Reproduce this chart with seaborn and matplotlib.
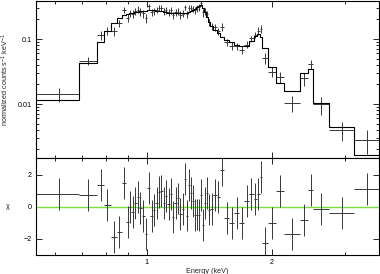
"""
Unfolded X-ray spectrum with folded model (top) and chi residuals (bottom)
"""

import numpy as np
import matplotlib
matplotlib.use('Agg')
import matplotlib.pyplot as plt
import seaborn as sns
from matplotlib.ticker import FixedLocator, NullFormatter, LogLocator

# channel bin edges (keV)
edges = [0.541, 0.687, 0.760, 0.788, 0.818, 0.846, 0.872, 0.892, 0.906, 0.919,
         0.932, 0.945, 0.958, 0.974, 0.988, 1.004,
         1.020, 1.034, 1.049, 1.064, 1.078, 1.093, 1.108, 1.122, 1.137, 1.151,
         1.166, 1.182, 1.198, 1.214, 1.228, 1.241, 1.257, 1.272, 1.288, 1.302,
         1.317, 1.331, 1.345, 1.359, 1.374, 1.391, 1.407, 1.424, 1.446, 1.473,
         1.503, 1.539, 1.580, 1.624, 1.670, 1.718, 1.766, 1.809, 1.843, 1.871, 1.899,
         1.957, 2.046, 2.146, 2.342, 2.444, 2.521, 2.750, 3.159, 3.629]

# folded model (counts s^-1 keV^-1)
model = [0.0115, 0.0423, 0.089, 0.132, 0.174, 0.210, 0.235, 0.245, 0.250, 0.255,
         0.260, 0.263, 0.266, 0.268, 0.270,
         0.278, 0.279, 0.277, 0.274, 0.270, 0.266, 0.262, 0.258, 0.255, 0.252,
         0.250, 0.249, 0.249, 0.250, 0.251, 0.253, 0.256, 0.262, 0.270, 0.281,
         0.295, 0.312, 0.326, 0.330, 0.300, 0.262, 0.218, 0.186, 0.160, 0.139,
         0.122, 0.109, 0.098, 0.089, 0.082, 0.077, 0.079, 0.093, 0.110, 0.120, 0.108,
         0.072, 0.0367, 0.0213, 0.0157, 0.0297, 0.0345, 0.0103, 0.00448, 0.00162]

# observed rate and 1-sigma errors
counts = [0.0141, 0.0466, 0.115, 0.134, 0.134, 0.175, 0.282, 0.213, 0.249, 0.245,
          0.267, 0.284, 0.264, 0.248, 0.212,
          0.317, 0.260, 0.271, 0.282, 0.300, 0.299, 0.270, 0.279, 0.260, 0.276,
          0.231, 0.257, 0.265, 0.235, 0.246, 0.307, 0.239, 0.305, 0.299, 0.293,
          0.276, 0.294, 0.307, 0.358, 0.258, 0.270, 0.242, 0.182, 0.157, 0.151,
          0.131, 0.155, 0.0896, 0.0779, 0.0782, 0.0674, 0.0824, 0.102, 0.1165, 0.134, 0.145,
          0.0505, 0.0314, 0.0263, 0.0105, 0.0249, 0.0413, 0.0099, 0.0040, 0.00283]

errors = [0.0033, 0.006, 0.019, 0.020, 0.021, 0.022, 0.032, 0.033, 0.033, 0.033,
          0.034, 0.034, 0.034, 0.034, 0.034,
          0.034, 0.034, 0.034, 0.033, 0.033, 0.033, 0.032, 0.032, 0.032, 0.031,
          0.031, 0.031, 0.031, 0.031, 0.031, 0.031, 0.031, 0.032, 0.033, 0.034,
          0.035, 0.037, 0.038, 0.039, 0.036, 0.032, 0.027, 0.023, 0.020, 0.017,
          0.015, 0.020, 0.012, 0.011, 0.010, 0.0095, 0.0097, 0.011, 0.013, 0.018, 0.020,
          0.0096, 0.0052, 0.005, 0.003, 0.0056, 0.0065, 0.003, 0.00125, 0.0011]

sns.set_style("ticks")
plt.rcParams['font.family'] = ['Liberation Sans', 'DejaVu Sans']
plt.rcParams['mathtext.default'] = 'regular'
plt.rcParams['axes.linewidth'] = 0.8

e = np.array(edges)
lo, hi = e[:-1], e[1:]
mid = 0.5 * (lo + hi)
m = np.array(model)
c = np.array(counts)
err = np.array(errors)
chi = (c - m) / err

W, H = 380, 274
fig = plt.figure(figsize=(W / 100, H / 100), dpi=100)
ax1 = fig.add_axes([36 / W, 116 / H, 343 / W, 157 / H])
ax2 = fig.add_axes([36 / W, 19 / H, 343 / W, 97 / H])

ink = '#383838'
fs = 5.2

# top panel: data + model
ax1.set_xscale('log')
ax1.set_yscale('log')
ax1.errorbar(mid, c, xerr=[mid - lo, hi - mid], yerr=err, fmt='none',
             ecolor=ink, elinewidth=0.7, capsize=0)
sns.lineplot(x=e, y=np.append(m, m[-1]), drawstyle='steps-post', color='black',
             linewidth=0.8, estimator=None, sort=False, ax=ax1)
ax1.set_xlim(edges[0], edges[-1])
ax1.set_ylim(0.00148, 0.385)

# bottom panel: residuals
ax2.set_xscale('log')
ax2.axhline(0, color='#78e040', linewidth=1.0, zorder=1)
ax2.errorbar(mid, chi, xerr=[mid - lo, hi - mid], yerr=np.ones_like(chi), fmt='none',
             ecolor=ink, elinewidth=0.7, capsize=0, zorder=2)
ax2.set_xlim(edges[0], edges[-1])
ax2.set_ylim(-3.02, 3.05)

for ax in (ax1, ax2):
    ax.xaxis.set_major_locator(FixedLocator([1, 2]))
    ax.xaxis.set_minor_locator(FixedLocator([0.6, 0.7, 0.8, 0.9, 3]))
    ax.xaxis.set_minor_formatter(NullFormatter())
    ax.tick_params(which='both', direction='in', top=True, right=True,
                   labelsize=fs, width=0.6, color='black', labelcolor='black')
    ax.tick_params(which='major', length=4, pad=3)
    ax.tick_params(which='minor', length=2)
    for s in ax.spines.values():
        s.set_color('black')

ax1.set_xticklabels([])
ax1.yaxis.set_major_locator(FixedLocator([0.01, 0.1]))
ax1.set_yticklabels(['0.01', '0.1'])
ax1.yaxis.set_minor_locator(LogLocator(base=10, subs=range(2, 10)))
ax1.yaxis.set_minor_formatter(NullFormatter())
ax1.set_xlabel('')
ax1.set_ylabel('')

ax2.set_xticklabels(['1', '2'])
ax2.yaxis.set_major_locator(FixedLocator([-2, 0, 2]))
ax2.set_yticklabels(['\u22122', '0', '2'])
ax2.set_xlabel('Energy (keV)', fontsize=fs, labelpad=1.5)

fig.text(5 / W, 1 - 80 / H, r'normalized counts s$^{-1}$ keV$^{-1}$', rotation=90,
         fontsize=fs, ha='center', va='center')
fig.text(8 / W, 1 - 207 / H, '\u03c7', fontsize=fs, ha='center', va='center')

fig.savefig('out.png', dpi=100)
plt.close()
